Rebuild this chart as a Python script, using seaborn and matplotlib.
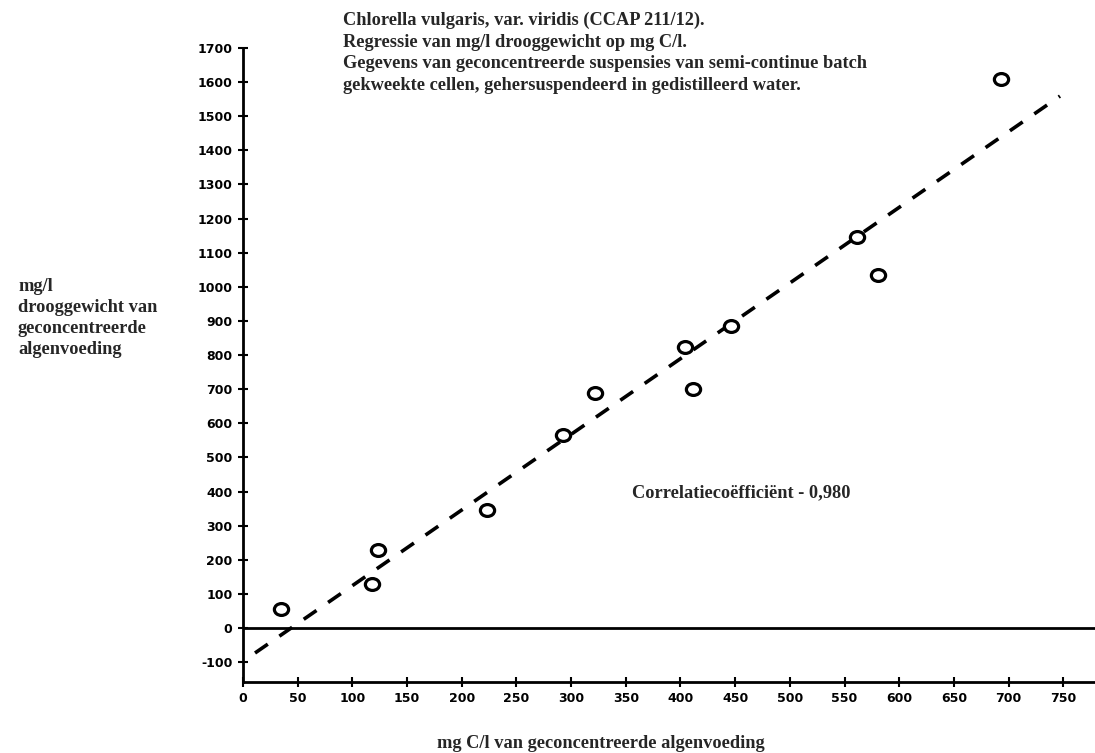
import matplotlib
matplotlib.use("Agg")
import matplotlib.pyplot as plt
from matplotlib.path import Path
from matplotlib.transforms import Affine2D
import seaborn as sns
import pandas as pd

# ---- data ----
carbon = [35, 118, 123, 223, 293, 322, 404, 411, 446, 561, 581, 693]          # mg C/l
dry_weight = [57, 130, 230, 345, 565, 690, 825, 700, 885, 1145, 1035, 1610]  # mg/l
reg_x = [11, 747]
reg_y = [-73, 1559]
x_ticks = [0, 50, 100, 150, 200, 250, 300, 350, 400, 450, 500, 550, 600, 650, 700, 750]
y_ticks = [-100, 0, 100, 200, 300, 400, 500, 600, 700, 800, 900, 1000, 1100,
           1200, 1300, 1400, 1500, 1600, 1700]

title_lines = ["Chlorella vulgaris, var. viridis (CCAP 211/12).",
               "Regressie van mg/l drooggewicht op mg C/l.",
               "Gegevens van geconcentreerde suspensies van semi-continue batch",
               "gekweekte cellen, gehersuspendeerd in gedistilleerd water."]
ylabel_text = "mg/l\ndrooggewicht van\ngeconcentreerde\nalgenvoeding"
xlabel_text = "mg C/l van geconcentreerde algenvoeding"
corr_text = "Correlatieco\u00ebffici\u00ebnt - 0,980"

sns.set_theme(style="white")
plt.rcParams["font.family"] = ["DejaVu Sans"]

fig = plt.figure(figsize=(10.95, 7.53), dpi=100)
ax = fig.add_axes([243 / 1095, 71 / 753, 852 / 1095, 634 / 753])

pts = pd.DataFrame({"x": carbon, "y": dry_weight})
reg = pd.DataFrame({"x": reg_x, "y": reg_y})

# slightly flattened open circle, as in the scanned original
oval = Path.unit_circle().transformed(Affine2D().scale(1.2, 1.0))

sns.lineplot(data=reg, x="x", y="y", ax=ax, color="black", linewidth=2.6,
             dashes=False, zorder=2)
ax.lines[-1].set_dashes((4.3, 3.9))
sns.scatterplot(data=pts, x="x", y="y", ax=ax, marker=oval, s=105,
                facecolor="white", edgecolor="black", linewidth=2.3, zorder=3)
ax.axhline(0, color="black", linewidth=2.0, zorder=1)

ax.set_xlim(0, 779)
ax.set_ylim(-158, 1700)
ax.set_xticks(x_ticks)
ax.set_yticks(y_ticks)
ax.set_xticklabels([str(v) for v in x_ticks], fontweight="bold", fontsize=9)
ax.set_yticklabels([str(v) for v in y_ticks], fontweight="bold", fontsize=9)
ax.tick_params(axis="both", direction="inout", length=7, width=1.5,
               colors="black", pad=4, left=True, bottom=True)
ax.set_xlabel("")
ax.set_ylabel("")

for side in ["top", "right"]:
    ax.spines[side].set_visible(False)
for side in ["left", "bottom"]:
    ax.spines[side].set_color("black")
    ax.spines[side].set_linewidth(2.0)
ax.grid(False)

serif = ["Liberation Serif", "DejaVu Serif"]
fs = 13.2
fig.text(343 / 1095, 1 - 12 / 753, "\n".join(title_lines), ha="left", va="top",
         fontsize=fs, fontweight="bold", family=serif, linespacing=1.35)
fig.text(18 / 1095, 1 - 278 / 753, ylabel_text, ha="left", va="top",
         fontsize=fs, fontweight="bold", family=serif, linespacing=1.3)
fig.text(601 / 1095, 1 - 743 / 753, xlabel_text, ha="center", va="center",
         fontsize=fs, fontweight="bold", family=serif)
fig.text(632 / 1095, 1 - 493 / 753, corr_text, ha="left", va="center",
         fontsize=fs, fontweight="bold", family=serif)

fig.savefig("out.png", dpi=100, facecolor="white")
